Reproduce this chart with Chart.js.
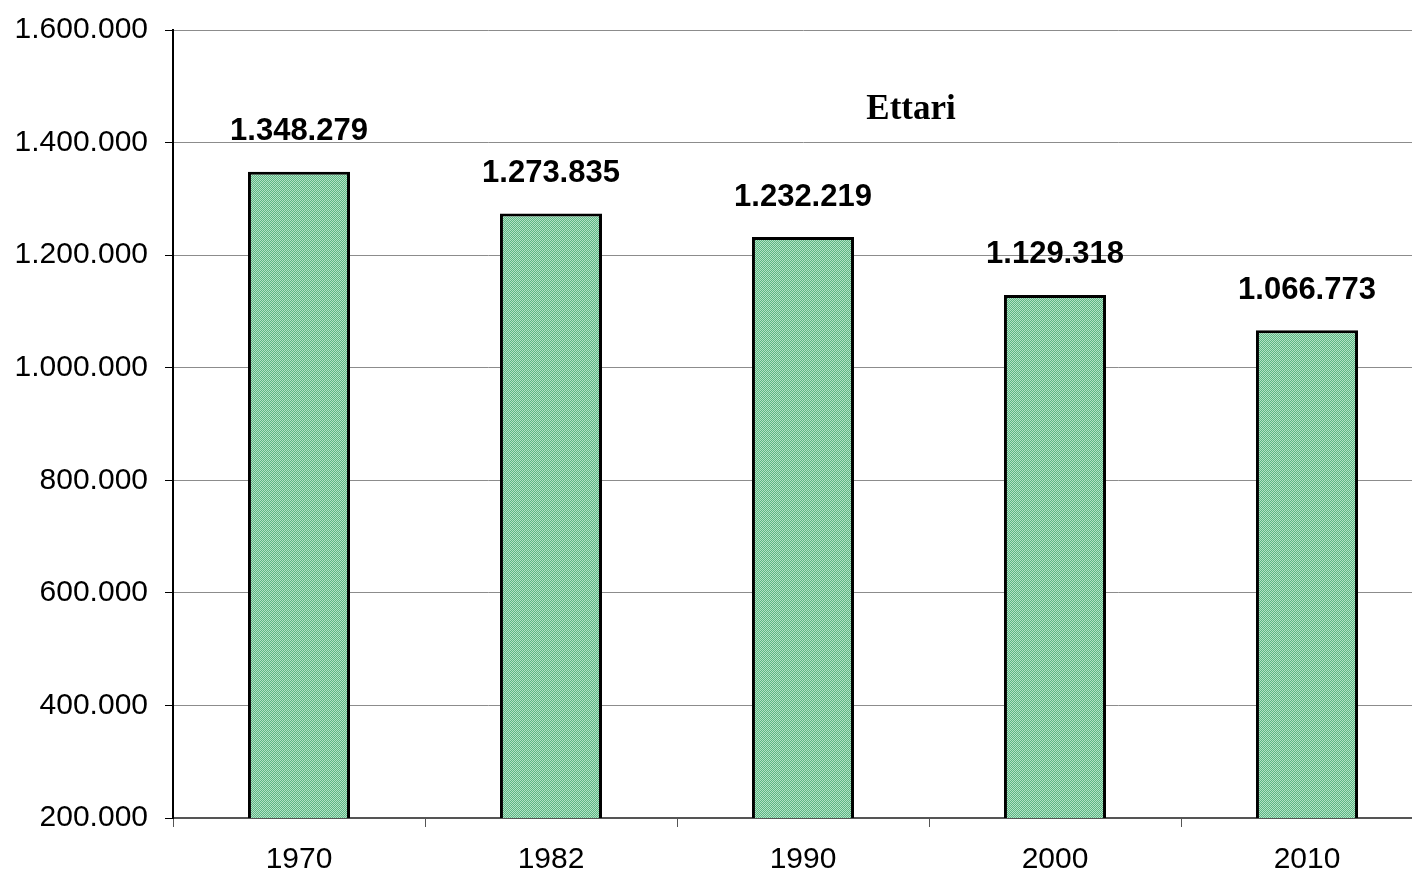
<!DOCTYPE html>
<html>
<head>
<meta charset="utf-8">
<script src="https://cdn.jsdelivr.net/npm/chart.js@4.4.1/dist/chart.umd.min.js"></script>
<style>
    html, body { margin: 0; padding: 0; background: #fff; overflow: hidden; }
    #wrap { width: 1440px; height: 874px; }
</style>
</head>
<body>
<div id="wrap"><canvas id="ettariChart" width="1440" height="874"></canvas></div>
<script>
const years = ['1970', '1982', '1990', '2000', '2010'];
const ettari = [1348279, 1273835, 1232219, 1129318, 1066773];
const yTicks = [200000, 400000, 600000, 800000, 1000000, 1200000, 1400000, 1600000];
const seriesTitle = 'Ettari';

function formatIt(n) {
    return String(Math.round(n)).replace(/\B(?=(\d{3})+(?!\d))/g, '.');
}

function makePattern() {
    const p = document.createElement('canvas');
    p.width = 2;
    p.height = 2;
    const c = p.getContext('2d');
    c.fillStyle = '#5cb684';
    c.fillRect(0, 0, 2, 2);
    c.fillStyle = '#b3e2c6';
    c.fillRect(0, 0, 1, 1);
    c.fillRect(1, 1, 1, 1);
    return c.createPattern(p, 'repeat');
}

const valueLabels = {
    id: 'valueLabels',
    afterDatasetsDraw(chart) {
        const ctx = chart.ctx;
        const meta = chart.getDatasetMeta(0);
        ctx.save();
        ctx.font = 'bold 31px "Liberation Sans", Arial, sans-serif';
        ctx.fillStyle = '#000';
        ctx.textAlign = 'center';
        ctx.textBaseline = 'middle';
        meta.data.forEach((bar, i) => {
            ctx.fillText(formatIt(ettari[i]), bar.x, bar.y - 40);
        });
        ctx.restore();
    }
};

const titleText = {
    id: 'titleText',
    afterDraw(chart) {
        const ctx = chart.ctx;
        ctx.save();
        ctx.font = 'bold 35px "Liberation Serif", "Times New Roman", serif';
        ctx.fillStyle = '#000';
        ctx.textAlign = 'center';
        ctx.textBaseline = 'middle';
        ctx.fillText(seriesTitle, 911, 110);
        ctx.restore();
    }
};

function generateChart() {
    const ctx = document.getElementById('ettariChart').getContext('2d');

    const config = {
        type: 'bar',
        data: {
            labels: years,
            datasets: [
                {
                    label: seriesTitle,
                    data: ettari,
                    backgroundColor: makePattern(),
                    borderColor: '#000',
                    borderWidth: 3,
                    borderSkipped: false,
                    barPercentage: 0.405,
                    categoryPercentage: 1.0
                }
            ]
        },
        options: {
            responsive: false,
            animation: false,
            layout: {
                padding: { top: 30, right: 7, bottom: 0, left: 0 }
            },
            scales: {
                x: {
                    grid: {
                        drawOnChartArea: false,
                        drawTicks: true,
                        tickLength: 9,
                        color: '#555'
                    },
                    border: { color: '#555', width: 2 },
                    ticks: {
                        color: '#000',
                        padding: 15,
                        font: { family: '"Liberation Sans", Arial, sans-serif', size: 30 }
                    },
                    afterFit: s => {
                        s.height = 56;
                        s.paddingLeft = 0;
                        s.paddingRight = 0;
                    }
                },
                y: {
                    min: 200000,
                    max: 1600000,
                    afterBuildTicks: s => { s.ticks = yTicks.map(v => ({ value: v })); },
                    grid: {
                        color: '#8c8c8c',
                        lineWidth: 1,
                        tickLength: 8,
                        tickColor: '#000'
                    },
                    border: { color: '#000', width: 2 },
                    ticks: {
                        color: '#000',
                        padding: 17,
                        font: { family: '"Liberation Sans", Arial, sans-serif', size: 30 },
                        callback: v => formatIt(v)
                    },
                    afterFit: s => {
                        s.width = 173;
                        s.paddingTop = 0;
                        s.paddingBottom = 0;
                    }
                }
            },
            plugins: {
                legend: { display: false },
                tooltip: { enabled: false }
            }
        },
        plugins: [valueLabels, titleText]
    };

    new Chart(ctx, config);
}

window.onload = generateChart;
</script>
</body>
</html>
